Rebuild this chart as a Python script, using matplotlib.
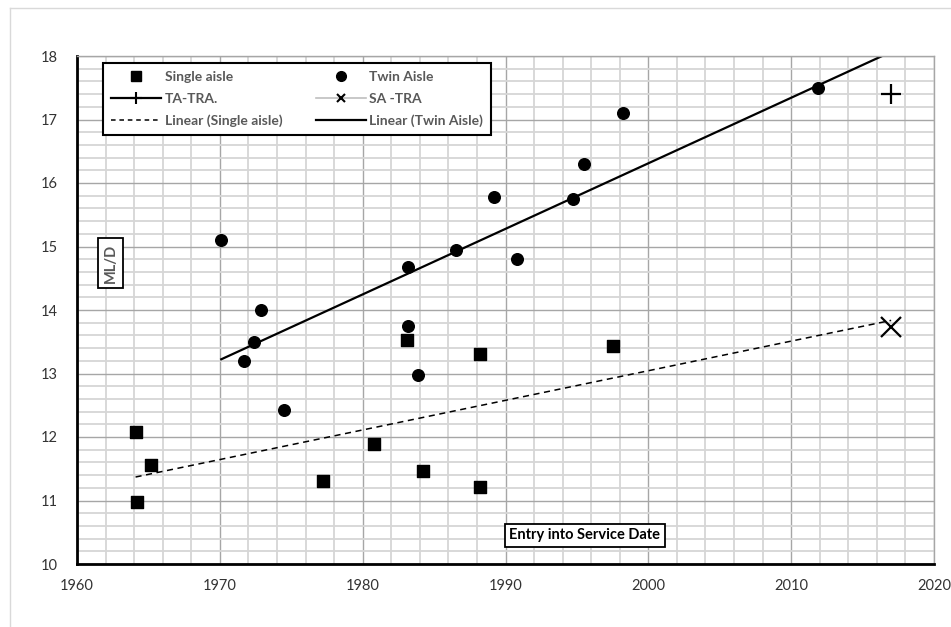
import matplotlib
matplotlib.use("Agg")
import matplotlib.pyplot as plt
import numpy as np
from matplotlib.lines import Line2D
from matplotlib.ticker import MultipleLocator

plt.rcParams["font.family"] = ["Lato", "DejaVu Sans"]

# Single aisle: entry into service year vs ML/D
sa_year = [1964.1, 1965.2, 1964.2, 1977.2, 1980.8, 1984.2, 1988.2, 1983.1, 1988.2, 1997.5]
sa_mld = [12.08, 11.56, 10.98, 11.31, 11.89, 11.46, 11.22, 13.53, 13.31, 13.43]

# Twin aisle
ta_year = [1970.1, 1972.9, 1972.4, 1971.7, 1983.2, 1986.5, 1983.2, 1983.9, 1974.5,
           1989.2, 1995.5, 1998.2, 1994.7, 2011.9, 1990.8]
ta_mld = [15.11, 14.0, 13.5, 13.2, 14.67, 14.94, 13.75, 12.98, 12.43,
          15.78, 16.3, 17.1, 15.75, 17.5, 14.8]

# technology reference aircraft
ta_tra_year, ta_tra_mld = [2017.0], [17.4]
sa_tra_year, sa_tra_mld = [2017.0], [13.73]

TREND_END = 2017.0
DARK = "#595959"

fig = plt.figure(figsize=(9.51, 6.27), dpi=100)
ax = fig.add_axes([77 / 951, 63 / 627, 857 / 951, 508 / 627])

# outer chart border (only left/top visible)
fig.add_artist(Line2D([10 / 951, 10 / 951], [0, 1 - 8 / 627], transform=fig.transFigure,
                      color="#d9d9d9", lw=1))
fig.add_artist(Line2D([10 / 951, 1], [1 - 8 / 627, 1 - 8 / 627], transform=fig.transFigure,
                      color="#d9d9d9", lw=1))

ax.set_xlim(1960, 2020)
ax.set_ylim(10, 18)
ax.xaxis.set_major_locator(MultipleLocator(10))
ax.xaxis.set_minor_locator(MultipleLocator(2))
ax.yaxis.set_major_locator(MultipleLocator(1))
ax.yaxis.set_minor_locator(MultipleLocator(0.2))
ax.grid(which="minor", color="#d6d6d6", lw=1.3, zorder=0)
ax.grid(which="major", color="#a6a6a6", lw=1.0, zorder=0)
ax.set_axisbelow(True)
ax.tick_params(which="both", length=0)
ax.tick_params(axis="x", pad=11, labelsize=10.5, colors="#333333")
ax.tick_params(axis="y", pad=14, labelsize=10.5, colors="#333333")
for s in ("left", "bottom"):
    ax.spines[s].set_linewidth(2)
    ax.spines[s].set_color("black")
for s in ("top", "right"):
    ax.spines[s].set_linewidth(1)
    ax.spines[s].set_color("#a6a6a6")

# trend lines (least squares, forecast forward to TREND_END)
p_sa = np.polyfit(sa_year, sa_mld, 1)
p_ta = np.polyfit(ta_year, ta_mld, 1)
xs = np.array([min(sa_year), TREND_END])
xt = np.array([min(ta_year), TREND_END])
ax.plot(xs, np.polyval(p_sa, xs), color="black", lw=1.1, ls=(0, (4, 3)), zorder=2)
ax.plot(xt, np.polyval(p_ta, xt), color="black", lw=1.6, zorder=2)

ax.scatter(sa_year, sa_mld, marker="s", s=70, color="black", zorder=3)
ax.scatter(ta_year, ta_mld, marker="o", s=70, color="black", zorder=3)
ax.plot(ta_tra_year, ta_tra_mld, marker="+", ms=15, mew=1.6, color="black", ls="none", zorder=3)
ax.plot(sa_tra_year, sa_tra_mld, marker="x", ms=15, mew=1.6, color="black", ls="none", zorder=3)

handles = [
    Line2D([], [], marker="s", color="black", ls="none", ms=7),
    Line2D([], [], marker="+", color="black", ls="-", lw=1.6, ms=9, mew=1.5),
    Line2D([], [], color="black", ls=(0, (3, 2.5)), lw=1.1),
    Line2D([], [], marker="o", color="black", ls="none", ms=7),
    Line2D([], [], marker="x", color="#bfbfbf", mec="black", ls="-", lw=1.2, ms=6, mew=1.5),
    Line2D([], [], color="black", ls="-", lw=1.6),
]
labels = ["Single aisle", "TA-TRA.", "Linear (Single aisle)",
          "Twin Aisle", "SA -TRA", "Linear (Twin Aisle)"]
leg = ax.legend(handles, labels, ncol=2, loc="upper left",
                bbox_to_anchor=(26 / 857, 1 - 7 / 508), borderaxespad=0,
                frameon=True, fancybox=False,
                edgecolor="black", framealpha=1, handlelength=3.6, handletextpad=0.25,
                columnspacing=2.4, borderpad=0.6, labelspacing=0.68,
                prop={"weight": "bold", "size": 10})
leg.get_frame().set_linewidth(1.5)
for t in leg.get_texts():
    t.set_color(DARK)

ax.text(1962.35, 14.74, "ML/D", rotation=90, ha="center", va="center", fontsize=10.5,
        fontweight="bold", color=DARK,
        bbox=dict(boxstyle="square,pad=0.35", fc="white", ec="black", lw=1.3))
ax.text(1995.54, 10.45, "Entry into Service Date", ha="center", va="center", fontsize=10.5,
        fontweight="bold", color="black",
        bbox=dict(boxstyle="square,pad=0.3", fc="white", ec="black", lw=1.3))

fig.savefig("out.png", dpi=100)
